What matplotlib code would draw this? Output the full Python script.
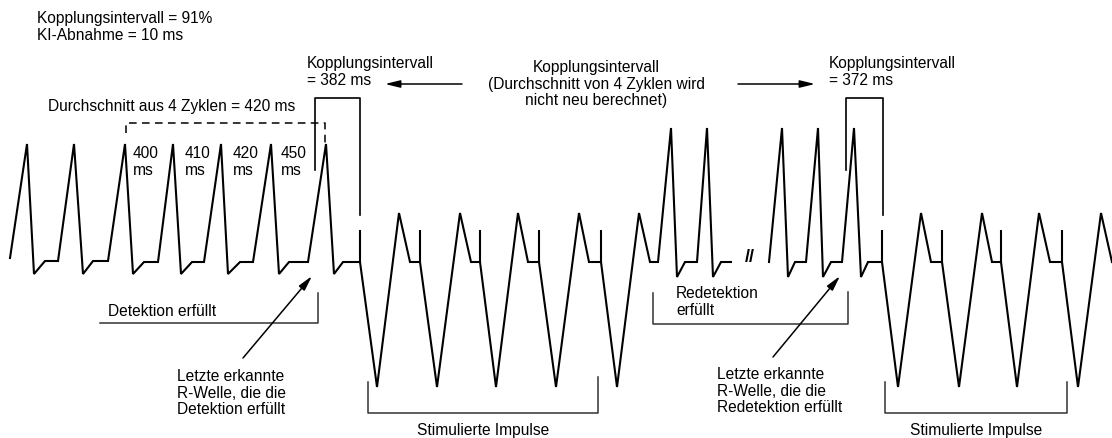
import matplotlib.pyplot as plt

plt.rcParams['font.family'] = ['Liberation Sans', 'DejaVu Sans']

# ECG trace in drawing units (x to the right, y downward), before the "//" break
trace_a_x = [10, 27, 34, 45, 58, 74, 83, 93, 108, 125, 133, 144, 158, 173, 181, 192, 204,
             221, 228, 240, 253, 271, 279, 289, 308, 326, 334, 343, 360,
             377, 399, 410, 420, 437, 460, 471, 480, 496, 518, 528, 539,
             556, 579, 589, 601, 617, 639, 650, 658, 671, 677, 685, 697, 707, 713, 721, 731]
trace_a_y = [258, 144, 274, 261, 261, 144, 274, 261, 261, 144, 274, 262, 262, 144, 274, 262, 262,
             144, 274, 262, 262, 144, 274, 262, 262, 144, 274, 262, 262,
             387, 213, 262, 262, 387, 213, 262, 262, 387, 213, 262, 262,
             387, 213, 262, 262, 387, 213, 262, 262, 128, 277, 262, 262, 128, 277, 262, 262]

# after the break
trace_b_x = [769, 782, 788, 795, 806, 818, 823, 831, 842, 854, 861, 868, 882,
             898, 921, 931, 942, 959, 982, 992, 1001, 1017, 1039, 1050, 1062, 1078, 1101, 1112]
trace_b_y = [262, 128, 277, 262, 262, 128, 277, 262, 262, 128, 277, 262, 262,
             387, 213, 262, 262, 387, 213, 262, 262, 387, 213, 262, 262, 387, 213, 262]

# pacing spikes
spike_x = [360, 420, 480, 539, 601, 882, 942, 1001, 1062]
spike_top = 230
spike_base = 262

cycle_labels = ['400\nms', '410\nms', '420\nms', '450\nms']
cycle_label_x = [133, 185, 233, 281]

fig = plt.figure(figsize=(11.12, 4.38), dpi=100)
ax = fig.add_axes([0, 0, 1, 1])
ax.set_xlim(0, 1112)
ax.set_ylim(438, 0)
ax.axis('off')

ax.plot(trace_a_x, trace_a_y, color='black', lw=1.5, solid_joinstyle='miter')
ax.plot(trace_b_x, trace_b_y, color='black', lw=1.5, solid_joinstyle='miter')
ax.vlines(spike_x, spike_top, spike_base, color='black', lw=1.5)

fs = 11.2
# text
ax.text(37, 27, 'Kopplungsintervall = 91%\nKI-Abnahme = 10 ms', fontsize=fs, va='center', ha='left')
ax.text(307, 72, 'Kopplungsintervall\n= 382 ms', fontsize=fs, va='center', ha='left')
ax.text(596, 84, 'Kopplungsintervall\n(Durchschnitt von 4 Zyklen wird\nnicht neu berechnet)',
        fontsize=fs, va='center', ha='center', multialignment='center', linespacing=1.15)
ax.text(829, 72, 'Kopplungsintervall\n= 372 ms', fontsize=fs, va='center', ha='left')
ax.text(48, 107, 'Durchschnitt aus 4 Zyklen = 420 ms', fontsize=fs, va='center', ha='left')
for lab, x in zip(cycle_labels, cycle_label_x):
    ax.text(x, 162, lab, fontsize=fs, va='center', ha='left')
ax.text(108, 311, 'Detektion erfüllt', fontsize=fs, va='center', ha='left')
ax.text(177, 393, 'Letzte erkannte\nR-Welle, die die\nDetektion erfüllt', fontsize=fs,
        va='center', ha='left', linespacing=1.1)
ax.text(676, 302, 'Redetektion\nerfüllt', fontsize=fs, va='center', ha='left', linespacing=1.15)
ax.text(717, 391, 'Letzte erkannte\nR-Welle, die die\nRedetektion erfüllt', fontsize=fs,
        va='center', ha='left', linespacing=1.1)
ax.text(483, 431, 'Stimulierte Impulse', fontsize=fs, va='center', ha='center')
ax.text(976, 431, 'Stimulierte Impulse', fontsize=fs, va='center', ha='center')
ax.text(750, 258, '//', fontsize=13, fontweight='bold', va='center', ha='center')

# coupling interval boxes
ax.plot([315, 315, 360, 360], [170, 98, 98, 215], color='black', lw=1.2)
ax.plot([846, 846, 883, 883], [170, 98, 98, 215], color='black', lw=1.2)
# 4-cycle average (dashed)
ax.plot([126, 126, 325, 325], [133, 123, 123, 143], color='black', lw=1.1, dashes=(5, 3.5))

# brackets
br = '#333333'
ax.plot([100, 318, 318], [323, 323, 293], color=br, lw=1.1)
ax.plot([653, 653, 848, 848], [293, 324, 324, 292], color=br, lw=1.1)
ax.plot([368, 368, 598, 598], [382, 413, 413, 377], color=br, lw=1.1)
ax.plot([885, 885, 1067, 1067], [382, 413, 413, 382], color=br, lw=1.1)

# arrows
arr = dict(arrowstyle='-|>,head_length=0.9,head_width=0.22', color='black', lw=1.1,
           shrinkA=0, shrinkB=0)
ax.annotate('', xy=(385, 84), xytext=(462, 84), arrowprops=arr)
ax.annotate('', xy=(815, 84), xytext=(738, 84), arrowprops=arr)
ax.annotate('', xy=(312, 276), xytext=(243, 358), arrowprops=arr)
ax.annotate('', xy=(840, 276), xytext=(773, 357), arrowprops=arr)

fig.savefig('out.png', dpi=100)
